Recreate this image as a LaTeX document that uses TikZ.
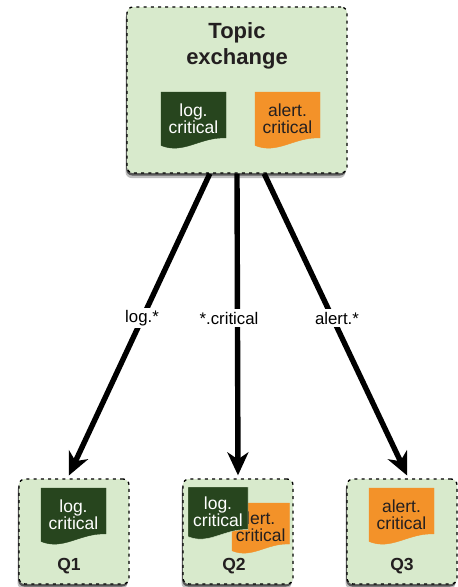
\documentclass[tikz,border=0pt]{standalone}
\usepackage{fontspec}
\setmainfont{Liberation Sans}
\usetikzlibrary{arrows.meta, shadows}
\definecolor{boxgreen}{HTML}{D8EACC}
\definecolor{logdark}{HTML}{27451E}
\definecolor{alertorange}{HTML}{F39229}
\definecolor{inkdark}{HTML}{231F20}
\begin{document}
\begin{tikzpicture}[x=1pt, y=-1pt]
\tikzset{box/.style={rectangle, draw=black, line width=1.3pt, dash pattern=on 3pt off 4.2pt, rounded corners=6pt, fill=boxgreen,
	drop shadow={shadow xshift=-1.5pt, shadow yshift=-5pt, opacity=.25, fill=black},
	drop shadow={shadow xshift=-.8pt, shadow yshift=-2.5pt, opacity=.55, fill=black}},
f/.style={-{Stealth[length=23pt, width=21pt, inset=7pt]}, line width=5.4pt, shorten >=3pt},
key/.style={fill=white, inner sep=2.5pt, font=\fontsize{16.8}{19}\selectfont, text=black},
title/.style={text=inkdark, align=center, font=\bfseries\fontsize{#1}{26}\selectfont}};

\useasboundingbox (0,0) rectangle (458,587);

\node[box, minimum width=220pt, minimum height=166pt] (exchange) at (237,90) {};
\node[box, minimum width=110pt, minimum height=105pt] (q1) at (74,531.5) {};
\node[box, minimum width=110pt, minimum height=105pt] (q2) at (238,531.5) {};
\node[box, minimum width=110pt, minimum height=105pt] (q3) at (402,531.5) {};

\node[title=22] (name) at (237,46) {Topic\\exchange};
\node[title=17.5] (q1name) at (69,566) {Q1};
\node[title=17.5] (q2name) at (234,566) {Q2};
\node[title=17.5] (q3name) at (402,566) {Q3};

\foreach \nm/\x/\y/\w/\h/\f/\t/\e/\txt in {
	toplog/161/92/65/56/logdark/white/logdark/{log.\\critical},
	topalert/255/92/65/56/alertorange/inkdark/alertorange/{alert.\\critical},
	q1log/41/488/65/56/logdark/white/logdark/{log.\\critical},
	q2alert/232/503/57.5/50/alertorange/inkdark/alertorange/{lert.\\critical},
	q2log/188/487/60/52/logdark/white/boxgreen/{log.\\critical},
	q3alert/369/488/65/56/alertorange/inkdark/alertorange/{alert.\\critical}} {
	\filldraw[fill=\f, draw=\e, line width=.4pt] (\x,\y) -- ++(\w,0) -- ++(0,.82*\h)
		.. controls (\x+.6*\w,\y+.8*\h) and (\x+.35*\w,\y+1.12*\h) .. (\x,\y+.955*\h) -- cycle;
	\node[text=\t, align=center, inner sep=0pt, font=\fontsize{17.5}{17}\selectfont] (\nm) at (\x+.5*\w,\y+.48*\h) {\txt};
}

\draw[f] (exchange.252) to (q1.97);
\draw[f] (exchange.270) to (q2.north);
\draw[f] (exchange.288) to (q3.83);

\node[key] (k1) at (142,318) {log.*};
\node[key] (k2) at (229,318) {*.critical};
\node[key] (k3) at (337,318) {alert.*};

\end{tikzpicture}
\end{document}
